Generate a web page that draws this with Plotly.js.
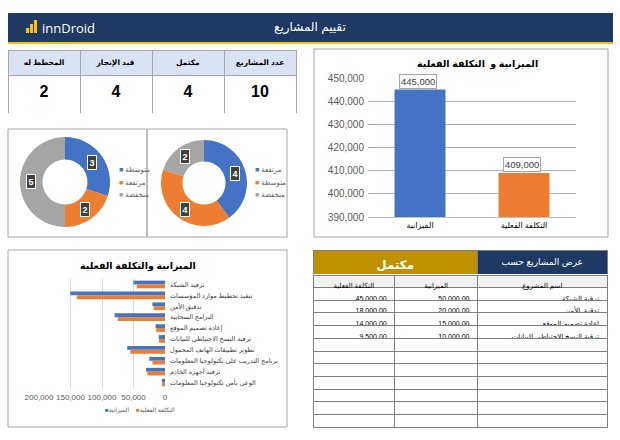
<!DOCTYPE html>
<html><head><meta charset="utf-8">
<script src="https://cdn.plot.ly/plotly-3.0.1.min.js"></script>
<style>html,body{margin:0;padding:0;background:#fff}#chart{width:620px;height:440px}</style>
</head><body><div id="chart"></div>
<script>
// ---------------- DATA ----------------
const pageTitle = 'تقييم المشاريع';
const logoText = 'innDroid';

const kpiLabels = ['المخطط له', 'قيد الإنجاز', 'مكتمل', 'عدد المشاريع'];
const kpiValues = [2, 4, 4, 10];

const riskLabelsA = ['متوسطة', 'مرتفعة', 'منخفضة'];
const riskValuesA = [3, 2, 5];
const riskLabelsB = ['مرتفعة', 'متوسطة', 'منخفضة'];
const riskValuesB = [4, 4, 2];

const totalsTitle = 'الميزانية و  التكلفة الفعلية';
const totalCats = ['الميزانية', 'التكلفة الفعلية'];
const totalVals = [445000, 409000];

const projectsTitle = 'الميزانية والتكلفة الفعلية';
const projects = ['ترقية الشبكة', 'تنفيذ تخطيط موارد المؤسسات', 'تدقيق الأمن', 'البرامج السحابية',
  'إعادة تصميم الموقع', 'ترقية النسخ الاحتياطي للبيانات', 'تطوير تطبيقات الهاتف المحمول',
  'برنامج التدريب على تكنولوجيا المعلومات', 'ترقية أجهزة الخادم', 'الوعي بأمن تكنولوجيا المعلومات'];
const budgets = [50000, 150000, 20000, 80000, 15000, 10000, 60000, 25000, 30000, 5000];
const actuals = [45000, 140000, 18000, 75000, 14000, 9500, 55000, 20000, 28000, 4500];
const seriesNames = ['الميزانية', 'التكلفة الفعلية'];
const xTicks = [0, 50000, 100000, 150000, 200000];

const bannerLabels = ['مكتمل', 'عرض المشاريع حسب'];
const tableHeaders = ['التكلفة الفعلية', 'الميزانية', 'اسم المشروع'];
const completedNames = ['ترقية الشبكة', 'تدقيق الأمن', 'إعادة تصميم الموقع', 'ترقية النسخ الاحتياطي للبيانات'];
const completedBudgets = [50000, 20000, 15000, 10000];
const completedActuals = [45000, 18000, 14000, 9500];
const tableRowCount = 11;

// ---------------- STYLE / LAYOUT HELPERS ----------------
const W = 620, H = 440;
const px = x => x / W;
const py = y => 1 - y / H;
const dx = (a, b) => [px(a), px(b)];
const dy = (top, bottom) => [py(bottom), py(top)];
const FONT = 'Liberation Sans, Arial, DejaVu Sans, sans-serif';
const BLUE = '#4472c4', ORANGE = '#ed7d31', GRAY = '#a5a5a5', NAVY = '#203864', GOLD = '#bf9000', BORDER = '#a6a6a6';
const pieColors = [BLUE, ORANGE, GRAY];
const nb = s => String(s).replace(/ /g, '\u00A0');   // keep table text on one line

function box(x0, y0, x1, y1, extra) {
  return Object.assign({type: 'rect', xref: 'paper', yref: 'paper', x0: px(x0), x1: px(x1), y0: py(y1), y1: py(y0),
    line: {color: BORDER, width: 1}}, extra || {});
}
function note(x, y, text, font, extra) {
  return Object.assign({xref: 'paper', yref: 'paper', x: px(x), y: py(y), xanchor: 'center', yanchor: 'middle',
    text: text, showarrow: false, font: Object.assign({family: FONT}, font)}, extra || {});
}
const fmt0 = v => v.toLocaleString('en-US');
const fmt2 = v => v.toLocaleString('en-US', {minimumFractionDigits: 2, maximumFractionDigits: 2});
const pad = (arr, n) => arr.concat(Array(Math.max(0, n - arr.length)).fill(''));

// pie geometry (pixels)
const pies = [
  {labels: riskLabelsA, values: riskValuesA, cx: 65, cy: 182, r: 45, legendX: 117},
  {labels: riskLabelsB, values: riskValuesB, cx: 204, cy: 183, r: 43, legendX: 253}
];
const HOLE = 0.5;

const traces = [];
const annotations = [];

// KPI table
traces.push({
  type: 'table', domain: {x: dx(8, 296), y: dy(50, 114)}, columnwidth: kpiLabels.map(() => 1),
  header: {values: kpiLabels.map(l => '<b>' + nb(l) + '</b>'), fill: {color: '#dae3f3'}, line: {color: BORDER, width: 1},
    align: 'center', height: 20, font: {size: 7.5, color: '#000', family: FONT}},
  cells: {values: kpiValues.map(v => ['<br><b>' + v + '</b>']), fill: {color: '#fff'}, line: {color: BORDER, width: 1},
    align: 'center', height: 43, font: {size: 16, color: '#000', family: FONT}}
});

// Donuts
pies.forEach(p => {
  traces.push({
    type: 'pie', labels: p.labels, values: p.values, hole: HOLE, sort: false, direction: 'clockwise', rotation: 0,
    marker: {colors: pieColors, line: {width: 0}}, textinfo: 'none', hoverinfo: 'label+value', showlegend: false,
    domain: {x: dx(p.cx - p.r, p.cx + p.r), y: dy(p.cy - p.r, p.cy + p.r)}
  });
  const total = p.values.reduce((a, b) => a + b, 0);
  let cum = 0;
  p.values.forEach((v) => {
    const ang = 2 * Math.PI * (cum + v / 2) / total;
    cum += v;
    const rr = p.r * (1 + HOLE) / 2;
    annotations.push(note(p.cx + rr * Math.sin(ang), p.cy - rr * Math.cos(ang), '<b>' + v + '</b>',
      {size: 9, color: '#fff'}, {bgcolor: '#404040', bordercolor: '#fff', borderwidth: 1, borderpad: 1.5}));
  });
  p.labels.forEach((l, i) => {
    annotations.push(note(p.legendX, 170 + i * 12.5,
      '<span style="color:' + pieColors[i] + '">■</span> ' + l, {size: 7, color: '#595959'}, {xanchor: 'left'}));
  });
});

// Totals bar chart (top right)
traces.push({
  type: 'bar', x: totalCats, y: totalVals, xaxis: 'x', yaxis: 'y', width: 0.49,
  marker: {color: [BLUE, ORANGE]}, showlegend: false, hoverinfo: 'x+y'
});
totalCats.forEach((c, i) => {
  annotations.push({xref: 'x', yref: 'y', x: c, y: totalVals[i], text: fmt0(totalVals[i]), showarrow: true,
    arrowhead: 0, arrowwidth: 1, arrowcolor: BORDER, ax: -2, ay: -8, bgcolor: '#fff', bordercolor: BORDER,
    borderwidth: 1, borderpad: 1, font: {size: 9.5, color: '#404040', family: FONT}});
});
annotations.push(note(477, 64, '<b>' + totalsTitle + '</b>', {size: 9.5, color: '#000'}));

// Projects bar chart (bottom left)
[budgets, actuals].forEach((vals, k) => {
  traces.push({
    type: 'bar', orientation: 'h', y: projects, x: vals, xaxis: 'x2', yaxis: 'y2', name: seriesNames[k],
    marker: {color: k === 0 ? BLUE : ORANGE}, showlegend: false, hoverinfo: 'y+x'
  });
});
annotations.push(note(138, 266, '<b>' + projectsTitle + '</b>', {size: 9.5, color: '#000'}));
seriesNames.forEach((n, k) => {
  annotations.push(note(k === 0 ? 131 : 134, 410,
    '<span style="color:' + (k === 0 ? BLUE : ORANGE) + '">■</span>' + n, {size: 6, color: '#595959'},
    {xanchor: k === 0 ? 'right' : 'left'}));
});

// Completed projects table (bottom right)
traces.push({
  type: 'table', domain: {x: dx(313, 608), y: dy(250, 275)}, columnwidth: [165, 130],
  header: {values: bannerLabels.map((l, i) => i === 0 ? '<b>' + nb(l) + '</b>' : nb(l)), fill: {color: [GOLD, NAVY]},
    line: {color: '#7f7f7f', width: 1}, align: 'center', height: 25,
    font: {size: [12, 9], color: '#fff', family: FONT}},
  cells: {values: [[], []]}
});
traces.push({
  type: 'table', domain: {x: dx(313, 608), y: dy(275, 428)}, columnwidth: [82, 83, 130],
  header: {values: tableHeaders.map(nb), fill: {color: '#f2f2f2'}, line: {color: '#7f7f7f', width: 1},
    align: 'center', height: 12.5, font: {size: 7, color: '#000', family: FONT}},
  cells: {values: [pad(completedActuals.map(fmt2), tableRowCount), pad(completedBudgets.map(fmt2), tableRowCount),
    pad(completedNames.map(nb), tableRowCount)], fill: {color: '#fff'}, line: {color: '#7f7f7f', width: 1},
    align: 'right', height: 12.7, font: {size: 7, color: '#000', family: FONT}}
});

// Header
annotations.push(note(310, 28, pageTitle, {size: 12, color: '#fff'}));
annotations.push(note(40, 28, logoText, {size: 13, color: '#fff', family: 'Open Sans, ' + FONT}, {xanchor: 'left'}));

const shapes = [
  box(8, 13, 613, 42, {fillcolor: NAVY, line: {width: 0}, layer: 'below'}),
  box(8, 42, 613, 44, {fillcolor: '#ffc000', line: {width: 0}, layer: 'below'}),
  box(26, 28, 29, 33, {fillcolor: '#ffc000', line: {width: 0}}),
  box(30, 24, 33, 33, {fillcolor: '#ffc000', line: {width: 0}}),
  box(34, 20, 37, 33, {fillcolor: '#ffc000', line: {width: 0}}),
  box(8, 129, 147, 237),
  box(147, 129, 287, 237),
  box(314, 49, 608, 237),
  box(8, 250, 287, 427)
];

const layout = {
  width: W, height: H, margin: {l: 0, r: 0, t: 0, b: 0}, paper_bgcolor: '#fff', plot_bgcolor: 'rgba(0,0,0,0)',
  font: {family: FONT}, showlegend: false, barmode: 'group', bargap: 0.3, bargroupgap: 0,
  xaxis: {domain: dx(368, 576), anchor: 'y', type: 'category', showline: true, linecolor: '#bfbfbf', ticks: '',
    tickfont: {size: 8, color: '#000'}, automargin: false, fixedrange: true},
  yaxis: {domain: dy(78, 217), anchor: 'x', range: [390000, 450000], dtick: 10000, tickformat: ',',
    gridcolor: '#b0b0b0', zeroline: false, showline: false, tickfont: {size: 10, color: '#595959'},
    ticklabelstandoff: 3, automargin: false, fixedrange: true},
  xaxis2: {domain: dx(39, 165), anchor: 'y2', range: [200000, 0], tickvals: xTicks, tickformat: ',',
    gridcolor: '#d9d9d9', zeroline: false, showline: false, tickfont: {size: 8, color: '#595959'},
    ticklabelstandoff: 3, automargin: false, fixedrange: true},
  yaxis2: {domain: dy(279, 388), anchor: 'x2', side: 'right', type: 'category', autorange: 'reversed',
    showgrid: false, zeroline: false, showline: false, ticks: '', tickfont: {size: 6.5, color: '#404040'},
    ticklabelstandoff: 4, automargin: false, fixedrange: true},
  shapes: shapes, annotations: annotations
};

Plotly.newPlot('chart', traces, layout, {displayModeBar: false, staticPlot: true});
</script>
</body></html>
